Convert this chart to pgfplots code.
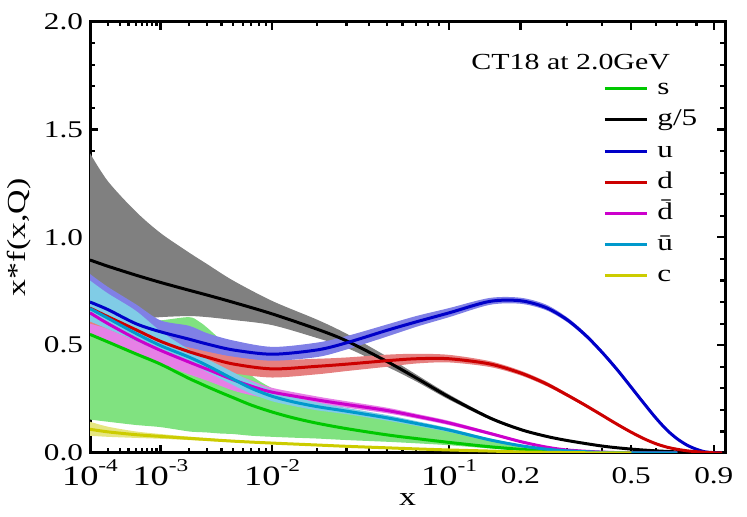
\documentclass[border=0pt]{standalone}
\usepackage{fontspec}
\setmainfont[FakeStretch=1.3]{Liberation Serif}
\usepackage{pgfplots}
\pgfplotsset{compat=1.18}
\usepackage{pgfplotstable}
\usepgfplotslibrary{fillbetween}

\definecolor{sline}{RGB}{0,200,0}
\definecolor{sband}{RGB}{128,226,128}
\definecolor{gband}{RGB}{128,128,128}
\definecolor{uline}{RGB}{0,0,200}
\definecolor{uband}{RGB}{128,128,230}
\definecolor{dline}{RGB}{204,0,0}
\definecolor{dband}{RGB}{230,128,128}
\definecolor{dbline}{RGB}{204,0,204}
\definecolor{dbband}{RGB}{230,128,230}
\definecolor{ubline}{RGB}{0,153,204}
\definecolor{ubband}{RGB}{128,204,230}
\definecolor{cline}{RGB}{204,204,0}
\definecolor{cband}{RGB}{230,230,128}

\newcommand{\tenp}[1]{10\raisebox{6.8pt}{\fontsize{9}{9}\selectfont #1}}
\newcommand{\dec}[1]{{\fontsize{12}{12}\selectfont\rule{0pt}{11.5pt}#1}}

% g/5
\pgfplotstableread{
x      c      lo     hi
1e-4   0.895  0.60   1.39
2e-4   0.866  0.61   1.26
5e-4   0.825  0.62   1.12
1e-3   0.791  0.63   1.02
2e-3   0.755  0.635  0.93
3e-3   0.732  0.63   0.875
5e-3   0.699  0.617  0.80
0.01   0.645  0.593  0.705
0.02   0.574  0.533  0.618
0.03   0.52   0.488  0.553
0.05   0.424  0.40   0.447
0.07   0.348  0.332  0.364
0.1    0.259  0.247  0.271
0.15   0.163  0.156  0.170
0.2    0.109  0.104  0.114
0.25   0.078  0.075  0.081
0.3    0.058  0.055  0.061
0.4    0.032  0.030  0.034
0.5    0.018  0.017  0.019
0.6    0.010  0.0095 0.0105
0.7    0.005  0.0047 0.0053
0.8    0.002  0.0019 0.0021
0.9    0.0005 0.0004 0.0006
0.95   0.0001 0.0001 0.0001
}\gtab

% u
\pgfplotstableread{
x      c      lo     hi
1e-4   0.70   0.62   0.83
2e-4   0.665  0.59   0.77
5e-4   0.60   0.55   0.69
1e-3   0.562  0.52   0.615
2e-3   0.528  0.49   0.59
3e-3   0.505  0.47   0.555
5e-3   0.478  0.447  0.522
0.01   0.458  0.428  0.492
0.02   0.478  0.445  0.512
0.03   0.511  0.48   0.542
0.05   0.569  0.54   0.596
0.07   0.608  0.585  0.635
0.1    0.65   0.63   0.672
0.15   0.703  0.687  0.719
0.2    0.706  0.692  0.72
0.25   0.675  0.663  0.689
0.3    0.618  0.607  0.629
0.35   0.545  0.535  0.555
0.4    0.465  0.456  0.474
0.45   0.384  0.375  0.393
0.5    0.304  0.296  0.312
0.55   0.229  0.223  0.235
0.6    0.162  0.157  0.167
0.65   0.106  0.102  0.110
0.7    0.065  0.062  0.068
0.75   0.036  0.034  0.038
0.8    0.017  0.016  0.018
0.85   0.005  0.0047 0.0053
0.9    0.0018 0.0016 0.002
0.95   0.0003 0.0003 0.0003
}\utab

% d
\pgfplotstableread{
x      c      lo     hi
1e-4   0.672  0.60   0.74
2e-4   0.632  0.575  0.69
5e-4   0.572  0.52   0.62
1e-3   0.518  0.48   0.555
2e-3   0.47   0.43   0.51
3e-3   0.444  0.40   0.487
5e-3   0.413  0.37   0.455
0.01   0.39   0.35   0.432
0.02   0.402  0.365  0.437
0.03   0.412  0.38   0.443
0.05   0.428  0.40   0.456
0.07   0.437  0.415  0.46
0.1    0.437  0.42   0.455
0.15   0.413  0.399  0.426
0.2    0.371  0.36   0.382
0.25   0.322  0.312  0.332
0.3    0.269  0.261  0.277
0.35   0.22   0.213  0.227
0.4    0.174  0.168  0.180
0.45   0.132  0.127  0.137
0.5    0.096  0.092  0.100
0.55   0.066  0.063  0.069
0.6    0.043  0.041  0.045
0.65   0.027  0.026  0.028
0.7    0.017  0.016  0.018
0.75   0.010  0.0095 0.0105
0.8    0.006  0.0057 0.0063
0.85   0.003  0.0028 0.0032
0.9    0.001  0.0009 0.0011
0.95   0.0002 0.0002 0.0002
}\dtab

% ubar
\pgfplotstableread{
x      c      lo     hi
1e-4   0.67   0.61   0.80
2e-4   0.625  0.575  0.74
5e-4   0.555  0.52   0.66
1e-3   0.498  0.47   0.565
2e-3   0.445  0.42   0.48
3e-3   0.405  0.375  0.435
5e-3   0.343  0.315  0.375
7e-3   0.30   0.275  0.33
0.01   0.263  0.24   0.29
0.014  0.237  0.218  0.26
0.02   0.215  0.198  0.234
0.03   0.194  0.18   0.209
0.05   0.163  0.15   0.176
0.07   0.137  0.126  0.148
0.1    0.106  0.097  0.115
0.15   0.061  0.055  0.067
0.2    0.034  0.030  0.038
0.25   0.018  0.015  0.021
0.3    0.010  0.008  0.012
0.4    0.003  0.0025 0.0035
0.5    0.0008 0.0006 0.001
0.6    0.0002 0.0002 0.0002
0.7    0      0      0
}\ubtab

% dbar
\pgfplotstableread{
x      c      lo     hi
1e-4   0.65   0.555  0.71
2e-4   0.60   0.52   0.665
5e-4   0.53   0.465  0.585
1e-3   0.476  0.415  0.52
2e-3   0.422  0.365  0.46
3e-3   0.388  0.335  0.42
5e-3   0.34   0.29   0.37
7e-3   0.31   0.268  0.336
0.01   0.282  0.25   0.302
0.02   0.246  0.228  0.262
0.03   0.225  0.21   0.24
0.05   0.197  0.184  0.21
0.07   0.171  0.16   0.182
0.1    0.139  0.129  0.149
0.15   0.091  0.084  0.098
0.2    0.053  0.048  0.058
0.25   0.028  0.025  0.031
0.3    0.014  0.0125 0.0155
0.4    0.004  0.0035 0.0045
0.5    0.001  0.0008 0.0012
0.6    0.0002 0.0002 0.0002
0.7    0      0      0
}\dbtab

% s
\pgfplotstableread{
x      c      lo     hi
1e-4   0.55   0.155  0.62
2e-4   0.515  0.145  0.615
5e-4   0.46   0.13   0.61
1e-3   0.412  0.12   0.615
2e-3   0.346  0.10   0.63
2.5e-3 0.325  0.097  0.61
3e-3   0.307  0.095  0.58
4e-3   0.279  0.09   0.52
5e-3   0.257  0.088  0.46
7e-3   0.222  0.08   0.36
0.01   0.19   0.075  0.30
0.014  0.163  0.071  0.255
0.02   0.138  0.067  0.22
0.03   0.113  0.06   0.195
0.05   0.084  0.052  0.16
0.07   0.067  0.045  0.13
0.1    0.049  0.036  0.105
0.15   0.029  0.021  0.063
0.2    0.017  0.012  0.038
0.25   0.010  0.007  0.024
0.3    0.006  0.003  0.014
0.4    0.002  0.0005 0.005
0.5    0.0005 0      0.001
0.6    0      0      0
}\stab

% c
\pgfplotstableread{
x      c      lo     hi
1e-4   0.11   0.08   0.145
2e-4   0.098  0.075  0.122
5e-4   0.085  0.07   0.10
1e-3   0.077  0.066  0.088
2e-3   0.068  0.06   0.076
5e-3   0.055  0.05   0.06
0.01   0.046  0.042  0.05
0.02   0.037  0.034  0.04
0.03   0.031  0.028  0.034
0.05   0.024  0.022  0.026
0.07   0.019  0.017  0.021
0.1    0.014  0.013  0.015
0.15   0.009  0.0085 0.0095
0.2    0.005  0.0047 0.0053
0.3    0.002  0.0019 0.0021
0.4    0.0005 0.0005 0.0005
0.5    0      0      0
}\ctab

% x axis is drawn in the variable x^(1/5)
\pgfplotsset{
  band/.style={draw=none, smooth, forget plot},
  pdf/.style={line width=1.5pt, smooth},
}
\newcommand{\tX}{(\thisrow{x})^(0.2)}

\begin{document}
\begin{tikzpicture}
\begin{axis}[
  at={(0,0)}, anchor=south west,
  scale only axis, width=317.5pt, height=215.65pt,
  xmin=0.158489, xmax=0.993926, ymin=0, ymax=2,
  xtick={0.158489,0.251189,0.398107,0.630957,0.724780,0.870551,0.979148},
  xticklabels={\tenp{-4},\tenp{-3},\tenp{-2},\tenp{-1},\dec{0.2},\dec{0.5},\dec{0.9}},
  minor xtick={0.182056,0.197436,0.209129,0.218674,0.226795,0.233896,0.240227,0.245952,
    0.288540,0.312914,0.331446,0.346573,0.359444,0.370699,0.380732,0.389808,
    0.457305,0.495934,0.525306,0.549280,0.569679,0.587515,0.603417,0.617801,
    0.786003,0.832553,0.902880,0.931149,0.956352},
  ytick={0,0.5,1,1.5,2},
  yticklabels={0.0,0.5,1.0,1.5,2.0},
  minor ytick={0.1,0.2,0.3,0.4,0.6,0.7,0.8,0.9,1.1,1.2,1.3,1.4,1.6,1.7,1.8,1.9},
  tick align=inside,
  major tick length=4.2pt, minor tick length=2.3pt,
  every tick/.style={black, line width=1.1pt},
  axis line style={line width=1.5pt},
  xticklabel style={font=\fontsize{14}{16}\selectfont},
  yticklabel style={font=\fontsize{12}{14}\selectfont},
  xlabel={x}, ylabel={x*f(x,Q)},
  xlabel style={font=\fontsize{13}{15}\selectfont, at={(axis description cs:0.5,-0.109)}, anchor=center},
  ylabel style={font=\fontsize{13}{15}\selectfont, at={(axis description cs:-0.1118,0.5)}, anchor=center},
  legend cell align=left,
  legend image code/.code={\draw[#1] (0pt,0pt) -- (21pt,0pt);},
  legend style={draw=none, fill=none, at={(axis description cs:0.8079,0.8734)}, anchor=north west,
    inner xsep=0pt, inner ysep=0pt, row sep=3.6pt, column sep=4.5pt,
    font=\fontsize{12}{14}\selectfont,
    nodes={inner sep=0pt, text height=9pt, text depth=3pt}},
]
% bands
\addplot[band, name path=gU] table[x expr=\tX, y=hi]{\gtab};
\addplot[band, name path=gL] table[x expr=\tX, y=lo]{\gtab};
\addplot[gband, forget plot] fill between[of=gU and gL];
\addplot[band, name path=sU] table[x expr=\tX, y=hi]{\stab};
\addplot[band, name path=sL] table[x expr=\tX, y=lo]{\stab};
\addplot[sband, forget plot] fill between[of=sU and sL];
\addplot[band, name path=dbU] table[x expr=\tX, y=hi]{\dbtab};
\addplot[band, name path=dbL] table[x expr=\tX, y=lo]{\dbtab};
\addplot[dbband, forget plot] fill between[of=dbU and dbL];
\addplot[band, name path=dU] table[x expr=\tX, y=hi]{\dtab};
\addplot[band, name path=dL] table[x expr=\tX, y=lo]{\dtab};
\addplot[dband, forget plot] fill between[of=dU and dL];
\addplot[band, name path=uU] table[x expr=\tX, y=hi]{\utab};
\addplot[band, name path=uL] table[x expr=\tX, y=lo]{\utab};
\addplot[uband, forget plot] fill between[of=uU and uL];
\addplot[band, name path=ubU] table[x expr=\tX, y=hi]{\ubtab};
\addplot[band, name path=ubL] table[x expr=\tX, y=lo]{\ubtab};
\addplot[ubband, forget plot] fill between[of=ubU and ubL];
\addplot[band, name path=cU] table[x expr=\tX, y=hi]{\ctab};
\addplot[band, name path=cL] table[x expr=\tX, y=lo]{\ctab};
\addplot[cband, forget plot] fill between[of=cU and cL];
% central lines
\addplot[pdf, sline] table[x expr=\tX, y=c]{\stab};
\addlegendentry{s}
\addplot[pdf, black] table[x expr=\tX, y=c]{\gtab};
\addlegendentry{g/5}
\addplot[pdf, uline] table[x expr=\tX, y=c]{\utab};
\addlegendentry{u}
\addplot[pdf, dline] table[x expr=\tX, y=c]{\dtab};
\addlegendentry{d}
\addplot[pdf, dbline] table[x expr=\tX, y=c]{\dbtab};
\addlegendentry{\=d}
\addplot[pdf, ubline] table[x expr=\tX, y=c]{\ubtab};
\addlegendentry{\=u}
\addplot[pdf, cline] table[x expr=\tX, y=c]{\ctab};
\addlegendentry{c}
\node[font=\fontsize{11.5}{13}\selectfont] at (axis description cs:0.757,0.9066) {CT18 at 2.0GeV};
\end{axis}
\pgfresetboundingbox
\path (-45pt,-32pt) rectangle (328.5pt,226.5pt);
\end{tikzpicture}
\end{document}
